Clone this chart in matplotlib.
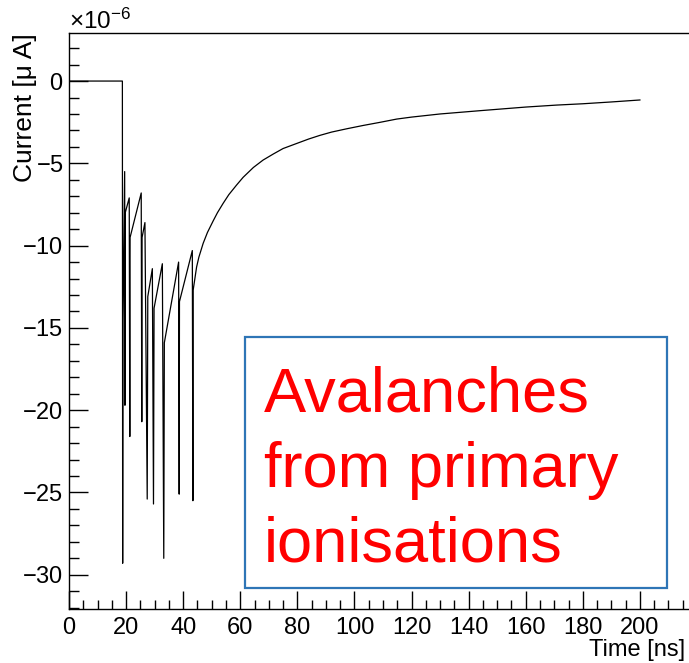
import matplotlib
matplotlib.use("Agg")
import matplotlib.pyplot as plt
from matplotlib.ticker import MultipleLocator, ScalarFormatter
from matplotlib.patches import Rectangle

plt.rcParams['font.family'] = ['Liberation Sans', 'DejaVu Sans']
plt.rcParams['mathtext.fontset'] = 'custom'
plt.rcParams['mathtext.rm'] = 'Liberation Sans'
plt.rcParams['mathtext.it'] = 'Liberation Sans:italic'

# Signal: time in ns, current in units of 1e-6
time_ns = [0.0, 18.7,
           18.8, 18.9, 19.5,
           19.6, 19.7, 21.1,
           21.3, 21.4, 25.3,
           25.5, 25.6, 26.6,
           27.4, 27.6, 29.2,
           29.6, 29.8, 32.7,
           33.2, 33.4, 38.4,
           38.6, 38.7, 43.2,
           43.4, 43.5, 44.7, 45.5, 47.0, 48.5, 50.5, 52.0, 54.0, 56.0,
           58.7, 61.0, 64.6, 68.0, 71.6, 75.0, 79.8, 84.0, 87.9, 92.0,
           97.3, 103.0, 108.9, 114.8, 120.0, 130.0, 144.0, 160.0, 170.8,
           180.0, 190.0, 200.0]
current = [0.0, 0.0,
           -29.3, -14.5, -5.5,
           -19.7, -8.0, -7.1,
           -21.6, -9.5, -6.8,
           -20.7, -9.5, -8.6,
           -25.4, -13.1, -11.4,
           -25.7, -13.8, -11.1,
           -29.0, -15.9, -11.0,
           -25.1, -13.4, -10.3,
           -25.5, -12.7, -11.3, -10.7, -9.86, -9.2, -8.5, -8.0, -7.43, -6.9,
           -6.32, -5.85, -5.25, -4.8, -4.43, -4.1, -3.79, -3.52, -3.30, -3.1,
           -2.90, -2.70, -2.51, -2.31, -2.19, -2.00, -1.80, -1.58, -1.46,
           -1.38, -1.27, -1.15]
scale = 1e-6

note_lines = ["Avalanches", "from primary", "ionisations"]


def main():
    W, H = 689, 663
    fig = plt.figure(figsize=(W / 100, H / 100), dpi=100)
    ax = fig.add_axes([69 / W, 1 - 609 / H, (W - 69) / W, (609 - 33) / H])

    ax.plot(time_ns, [c * scale for c in current], color='black', linewidth=0.9)

    ax.set_xlim(0, 217.2)
    ax.set_ylim(-32.08 * scale, 2.92 * scale)

    ax.xaxis.set_major_locator(MultipleLocator(20))
    ax.xaxis.set_minor_locator(MultipleLocator(5))
    ax.yaxis.set_major_locator(MultipleLocator(5 * scale))
    ax.yaxis.set_minor_locator(MultipleLocator(1 * scale))
    fmt = ScalarFormatter(useMathText=True)
    fmt.set_powerlimits((-6, -6))
    ax.yaxis.set_major_formatter(fmt)
    ax.yaxis.get_offset_text().set_fontsize(17.5)

    ax.spines['right'].set_visible(False)
    for s in ('left', 'bottom', 'top'):
        ax.spines[s].set_linewidth(1.0)
    ax.tick_params(axis='both', which='both', direction='in', top=False, right=False,
                   labelsize=17, width=1.0)
    ax.tick_params(axis='y', which='major', length=14, pad=4)
    ax.tick_params(axis='y', which='minor', length=7)
    ax.tick_params(axis='x', which='major', length=13, pad=6)
    ax.tick_params(axis='x', which='minor', length=6.5)

    ax.set_xlabel('Time [ns]', fontsize=17, loc='right')
    ax.xaxis.set_label_coords(0.9935, -0.052)
    ax.set_ylabel('Current [\u03bc A]', fontsize=19, loc='top')
    ax.yaxis.set_label_coords(-0.052, 1.0)

    # annotation box
    fig.patches.append(Rectangle((245 / W, 1 - 588 / H), (667 - 245) / W, (588 - 337) / H,
                                 transform=fig.transFigure, fill=False,
                                 edgecolor='#2E75B6', linewidth=1.6))
    for i, line in enumerate(note_lines):
        fig.text(264 / W, 1 - (412 + 75 * i) / H, line, color='#FF0000',
                 fontsize=45.5, ha='left', va='baseline')

    fig.savefig('out.png', dpi=100)
    plt.close(fig)


if __name__ == "__main__":
    main()
